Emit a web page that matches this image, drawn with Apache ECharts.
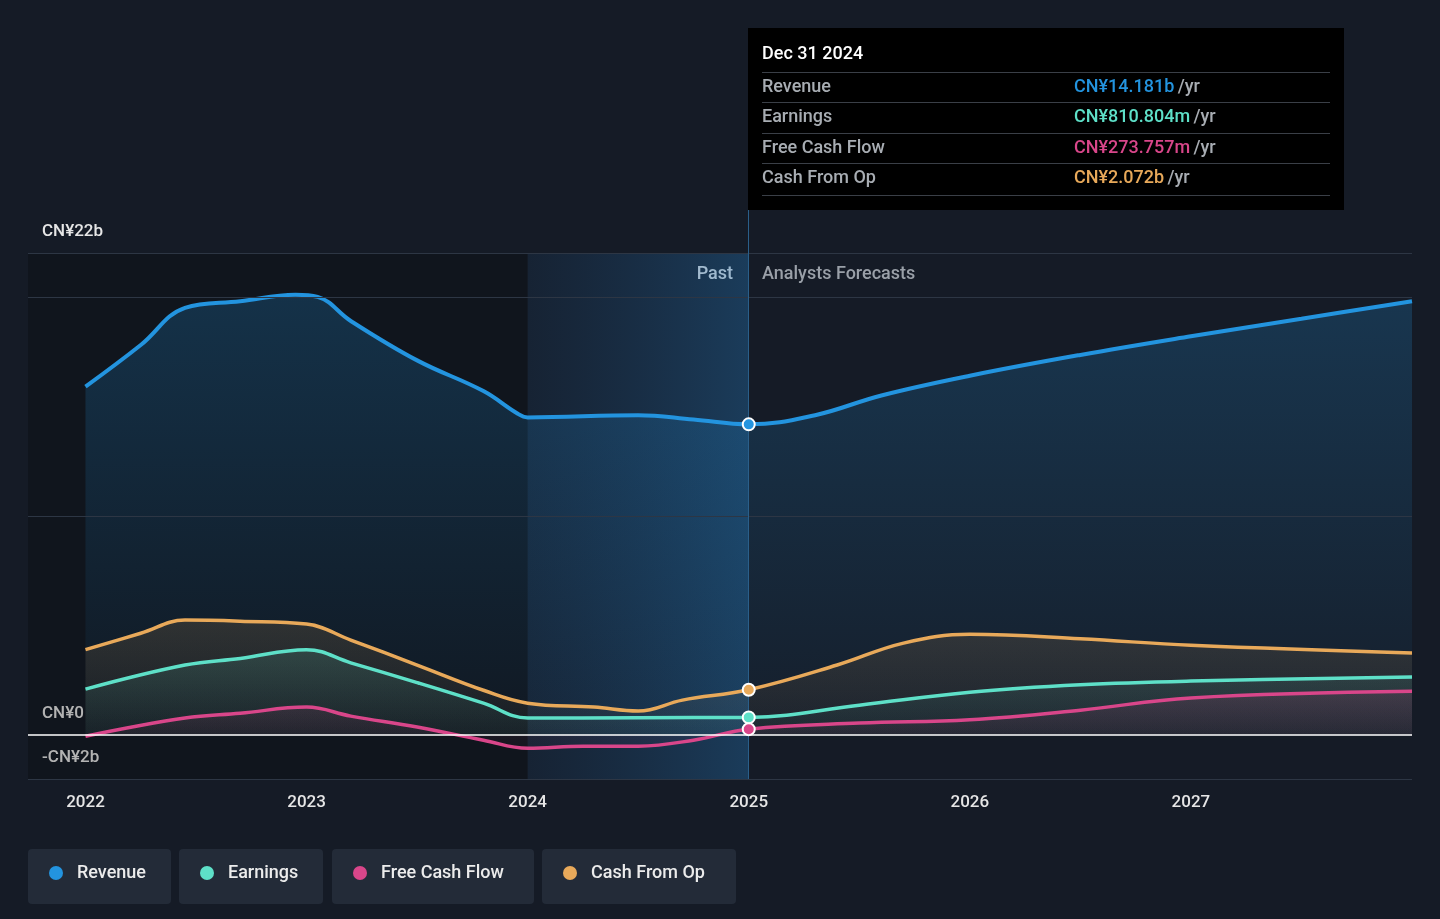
<!DOCTYPE html>
<html><head><meta charset="utf-8">
<script src="https://cdn.jsdelivr.net/npm/echarts@6/dist/echarts.min.js"></script>
<style>html,body{margin:0;background:#151b26;}#c{width:1440px;height:919px;}</style>
</head><body><div id="c"></div>
<script>
const revenue=[[2022,15.9],[2022.25,17.8],[2022.45,19.5],[2022.7,19.8],[2022.95,20.1],[2023.05,20.0],[2023.2,18.9],[2023.5,17.1],[2023.8,15.7],[2023.95,14.7],[2024,14.5],[2024.5,14.6],[2024.75,14.4],[2025,14.181],[2025.3,14.6],[2025.6,15.5],[2026,16.4],[2026.5,17.35],[2027,18.2],[2027.5,19.0],[2028,19.8]];
const cashOp=[[2022,3.9],[2022.25,4.65],[2022.45,5.25],[2022.7,5.2],[2023,5.07],[2023.2,4.34],[2023.5,3.2],[2023.8,2.05],[2024,1.46],[2024.3,1.28],[2024.5,1.1],[2024.7,1.6],[2025,2.072],[2025.4,3.2],[2025.7,4.2],[2026,4.6],[2026.5,4.4],[2027,4.1],[2028,3.75]];
const earnings=[[2022,2.1],[2022.45,3.2],[2022.7,3.5],[2023,3.9],[2023.2,3.3],[2023.5,2.4],[2023.8,1.46],[2024,0.78],[2024.5,0.8],[2025,0.811],[2025.5,1.37],[2026,1.96],[2026.5,2.3],[2027,2.47],[2028,2.65]];
const fcf=[[2022,-0.05],[2022.45,0.78],[2022.7,1.0],[2023,1.28],[2023.2,0.87],[2023.5,0.37],[2023.8,-0.23],[2024,-0.6],[2024.25,-0.5],[2024.5,-0.5],[2024.75,-0.23],[2025,0.274],[2025.5,0.55],[2026,0.7],[2026.5,1.14],[2027,1.7],[2028,2.0]];
const yearTicks=[2022,2023,2024,2025,2026,2027];
const C={rev:'#2394df',earn:'#5ee0c8',fcf:'#d9468a',cfo:'#e8a95a'};
const F='Roboto, sans-serif';
const FW='500 18px '+F;
function ser(name,data,color,op){
  return {name,type:'line',data,smooth:0.4,symbol:'none',lineStyle:{color,width:name==='Revenue'?4:3.5},
    areaStyle:{color:new echarts.graphic.LinearGradient(0,0,0,1,[{offset:0,color:echarts.color.modifyAlpha(color,op)},{offset:1,color:echarts.color.modifyAlpha(color,0.04)}])},
    markPoint:{symbol:'circle',symbolSize:12,itemStyle:{color,borderColor:'#fff',borderWidth:2},label:{show:false},data:[{coord:data.find(d=>d[0]===2025)}]},z:3};
}
const chart=echarts.init(document.getElementById('c'));
const grid='#2d3644';
chart.setOption({
  backgroundColor:'#151b26',animation:false,
  grid:{left:28,right:28,top:253,bottom:140},
  xAxis:{type:'value',min:2021.74,max:2028,axisLine:{show:false},axisTick:{show:false},splitLine:{show:false},
    axisLabel:{customValues:yearTicks,color:'#e6e6e6',fontSize:17,fontWeight:500,fontFamily:F,margin:15,formatter:v=>String(v)}},
  yAxis:{type:'value',min:-2,max:22,axisLabel:{show:false},splitLine:{show:false},axisLine:{show:false},axisTick:{show:false}},
  series:[
    {type:'line',data:[],markArea:{silent:true,data:[
      [{xAxis:2021.74,itemStyle:{color:'rgba(0,0,0,0.22)'}},{xAxis:2024}],
      [{xAxis:2024,itemStyle:{color:new echarts.graphic.LinearGradient(0,0,1,0,[{offset:0,color:'rgba(30,80,130,0.15)'},{offset:1,color:'rgba(35,110,170,0.4)'}])}},{xAxis:2025}]
    ]},
    markLine:{silent:true,symbol:'none',label:{show:false},data:[
      {yAxis:22,lineStyle:{color:grid,type:'solid',width:1}},{yAxis:20,lineStyle:{color:grid,type:'solid',width:1}},
      {yAxis:10,lineStyle:{color:grid,type:'solid',width:1}},{yAxis:-2,lineStyle:{color:grid,type:'solid',width:1}},
      {yAxis:0,lineStyle:{color:'#ffffff',type:'solid',width:1.5}},
      {xAxis:2025,lineStyle:{color:'#2a5f8a',type:'solid',width:1}}]},z:1},
    ser('Revenue',revenue,C.rev,0.32),
    ser('Cash From Op',cashOp,C.cfo,0.2),
    ser('Earnings',earnings,C.earn,0.2),
    ser('Free Cash Flow',fcf,C.fcf,0.2)
  ],
  graphic:[
    {type:'text',left:42,top:223,style:{text:'CN¥22b',fill:'#e6e6e6',font:'500 17px '+F}},
    {type:'text',left:42,top:705,style:{text:'CN¥0',fill:'#e6e6e6',font:'500 17px '+F}},
    {type:'text',left:42,top:749,style:{text:'-CN¥2b',fill:'#e6e6e6',font:'500 17px '+F}},
    {type:'text',right:1440-733,top:265,style:{text:'Past',fill:'#e6e6e6',font:FW,textAlign:'right'}},
    {type:'text',left:762,top:265,style:{text:'Analysts Forecasts',fill:'#9aa0a8',font:FW}},
    {type:'line',shape:{x1:748.5,y1:200,x2:748.5,y2:260},style:{stroke:'#2a5f8a',lineWidth:1}},
    {type:'rect',shape:{x:748,y:28,width:596,height:182},style:{fill:'#000'}},
    {type:'text',left:762,top:45,style:{text:'Dec 31 2024',fill:'#fff',font:FW}},
    ...[['Revenue','CN¥14.181b',C.rev,86],['Earnings','CN¥810.804m',C.earn,116],['Free Cash Flow','CN¥273.757m',C.fcf,147],['Cash From Op','CN¥2.072b',C.cfo,177]].flatMap(([n,v,c,y])=>[
      {type:'line',shape:{x1:762,y1:y-13.5,x2:1330,y2:y-13.5},style:{stroke:'#3a3f47',lineWidth:1}},
      {type:'text',left:762,top:y-8,style:{text:n,fill:'#a8adb3',font:FW}},
      {type:'text',left:1074,top:y-8,style:{rich:{a:{fill:c,font:FW},b:{fill:'#a8adb3',font:FW}},text:'{a|'+v+'} {b|/yr}'}}]),
    {type:'line',shape:{x1:762,y1:195.5,x2:1330,y2:195.5},style:{stroke:'#3a3f47',lineWidth:1}},
    ...[['Revenue',C.rev,28,143],['Earnings',C.earn,179,144],['Free Cash Flow',C.fcf,332,202],['Cash From Op',C.cfo,542,194]].flatMap(([n,c,x,w])=>[
      {type:'rect',shape:{x,y:849,width:w,height:55,r:4},style:{fill:'#232b38'}},
      {type:'circle',shape:{cx:x+28,cy:873,r:7},style:{fill:c}},
      {type:'text',left:x+49,top:864,style:{text:n,fill:'#ececec',font:FW}}])
  ]
});
</script></body></html>
